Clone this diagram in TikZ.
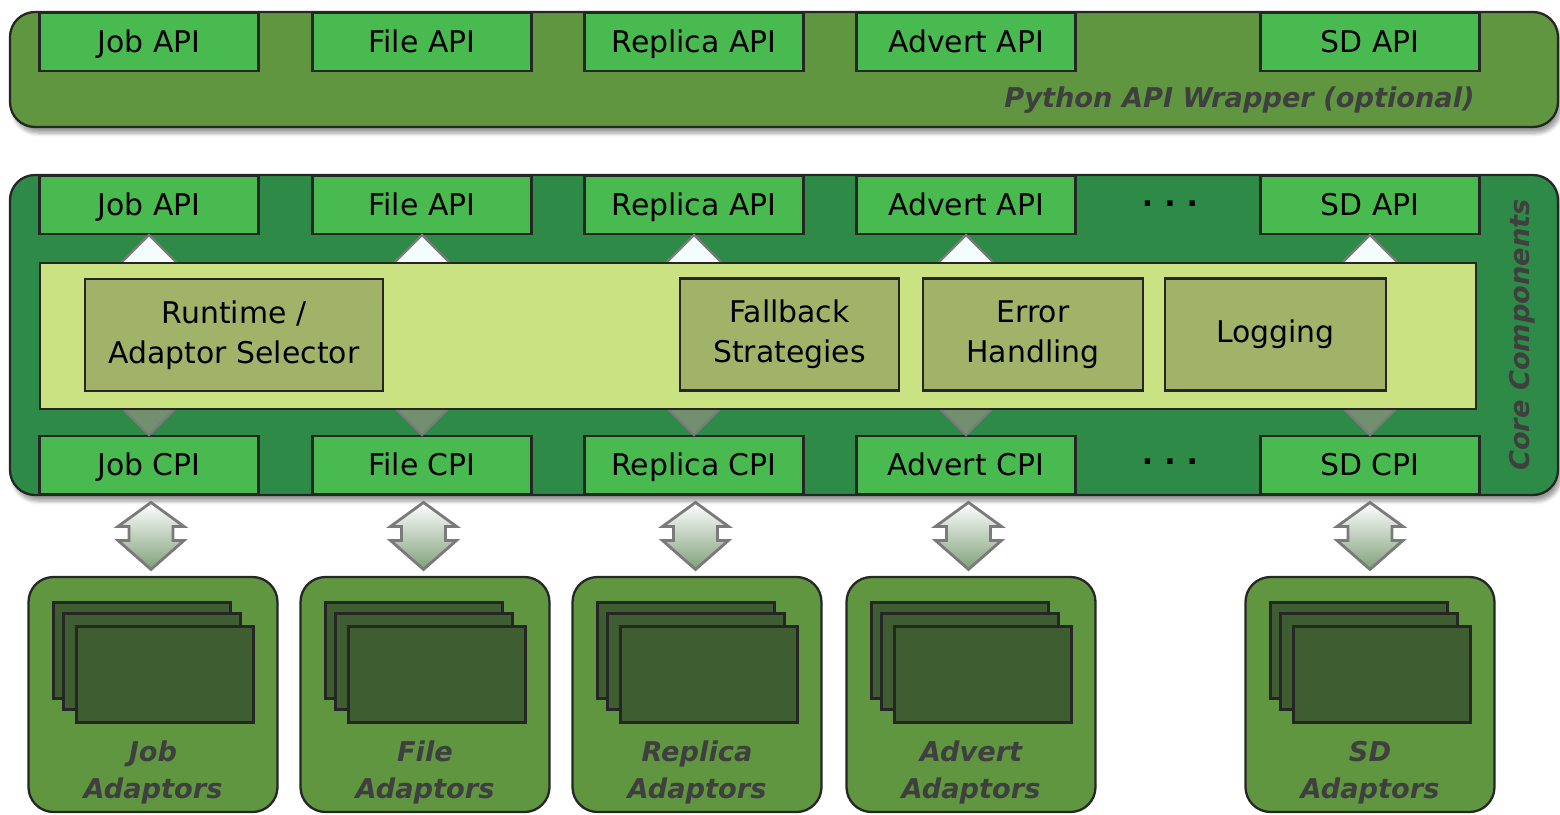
\documentclass[tikz,border=0pt]{standalone}
\usepackage{fontspec}
\setmainfont{DejaVu Sans}
\usetikzlibrary{calc,shadows.blur}

\definecolor{wrapgreen}{HTML}{5F963F}
\definecolor{apigreen}{HTML}{48BA4F}
\definecolor{coregreen}{HTML}{2E8B47}
\definecolor{bandgreen}{HTML}{CBE283}
\definecolor{innergreen}{HTML}{A0B368}
\definecolor{sheetgreen}{HTML}{3E5E31}
\definecolor{labelgray}{HTML}{3F3F3F}
\definecolor{tipgray}{HTML}{7A7A7A}
\definecolor{arrowgreen}{HTML}{7FA079}

\begin{document}
\begin{tikzpicture}[x=0.2mm, y=-0.2mm,
    panel/.style={rectangle, draw=black!85, line width=1.3pt, rounded corners=5mm, inner sep=0pt,
                  blur shadow={shadow xshift=0.6mm, shadow yshift=-1.2mm, shadow blur steps=6}},
    apibox/.style={rectangle, draw=black!85, line width=1.2pt, fill=apigreen, inner sep=0pt,
                   minimum width=43.8mm, minimum height=11.6mm, text height=14pt, text depth=1.6pt,
                   font=\fontsize{17}{20}\selectfont},
    innerbox/.style={rectangle, draw=black!85, line width=1.2pt, fill=innergreen, inner sep=0pt,
                     minimum height=22.4mm, align=center, font=\fontsize{17}{22.7}\selectfont},
    adbox/.style={rectangle, draw=black!85, line width=1.3pt, fill=wrapgreen, rounded corners=5mm,
                  minimum width=49.8mm, minimum height=47mm, inner sep=0pt},
    sheet/.style={rectangle, draw=black!85, line width=1.2pt, fill=sheetgreen, inner sep=0pt,
                  minimum width=35.4mm, minimum height=19.2mm},
    ital/.style={text=labelgray, inner sep=0pt, font=\fontsize{15.5}{21}\selectfont\bfseries\itshape},
    uptri/.style={draw=tipgray, line width=1.3pt, fill=white!90!cyan!40},
    downtri/.style={draw=tipgray, line width=1.3pt, fill=arrowgreen!90!black},
    dblarrow/.style={draw=tipgray, line width=1.6pt, top color=white, bottom color=arrowgreen},
    dots/.style={inner sep=0pt, font=\fontsize{17}{20}\selectfont\bfseries}]

  \useasboundingbox (0,0) rectangle (1560,815);

  % python wrapper
  \node[panel, fill=wrapgreen, minimum width=309.6mm, minimum height=23mm] (wrap) at (784,69.5) {};
  \foreach \x/\i/\t in {149/1/Job, 422/2/File, 694/3/Replica, 966/4/Advert, 1370/5/SD}
    \node[apibox] (W\i) at (\x,42) {\t{} API};
  \node[ital, anchor=east] (pyw) at (1475,100) {Python API Wrapper (optional)};

  % core components
  \node[panel, fill=coregreen, minimum width=309.6mm, minimum height=64mm] (core) at (784,335) {};
  \foreach \x/\i/\t in {149/1/Job, 422/2/File, 694/3/Replica, 966/4/Advert, 1370/5/SD}{
    \node[apibox] (A\i) at (\x,205) {\t{} API};
    \node[apibox] (C\i) at (\x,465) {\t{} CPI};
  }
  \node[dots] (adots) at (1170,204) {.\hspace{2.2mm}.\hspace{2.2mm}.};
  \node[dots] (cdots) at (1170,462) {.\hspace{2.2mm}.\hspace{2.2mm}.};

  \foreach \i in {1,...,5}{
    \draw[uptri] (A\i.south) -- ++(29,29) -- ++(-58,0) -- cycle;
    \draw[downtri] (C\i.north) -- ++(29,-29) -- ++(-58,0) -- cycle;
  }

  \node[rectangle, draw=black!85, line width=1.2pt, fill=bandgreen, inner sep=0pt,
        minimum width=287.2mm, minimum height=29.2mm] (band) at (758,336) {};

  \node[innerbox, minimum width=59.6mm] (rts) at (234,335) {Runtime /\\Adaptor Selector};
  \node[innerbox, minimum width=43.8mm] (fbs) at (789.5,334.5) {Fallback\\Strategies};
  \node[innerbox, minimum width=44mm] (err) at (1033,334.5) {Error\\Handling};
  \node[innerbox, minimum width=44.2mm] (log) at (1275.5,334.5) {Logging};

  \node[ital, rotate=90] (cc) at (1522,335) {Core Components};

  % adaptors
  \foreach \x/\i/\t in {153/1/Job, 425/2/File, 697/3/Replica, 971/4/Advert, 1370/5/SD}{
    \node[adbox] (D\i) at (\x,694.5) {};
    \node[sheet] (S\i-1) at ($(D\i)+(-11,-44)$) {};
    \node[sheet] (S\i-2) at ($(D\i)+(-1,-33)$) {};
    \node[sheet] (S\i-3) at ($(D\i)+(12,-20)$) {};
    \node[ital, align=center] (L\i) at ($(D\i)+(0,78)$) {\t\\Adaptors};
  }

  % cpi <-> adaptors
  \foreach \i in {1,...,5}{
    \coordinate (m\i) at ($(C\i.south)!0.5!(D\i.north)$);
    \draw[dblarrow] ($(m\i)+(0,-33)$) -- ++(33,24) -- ++(-11,0) -- ++(0,14) -- ++(11,0)
      -- ++(-33,29) -- ++(-33,-29) -- ++(11,0) -- ++(0,-14) -- ++(-11,0) -- cycle;
  }
\end{tikzpicture}
\end{document}
